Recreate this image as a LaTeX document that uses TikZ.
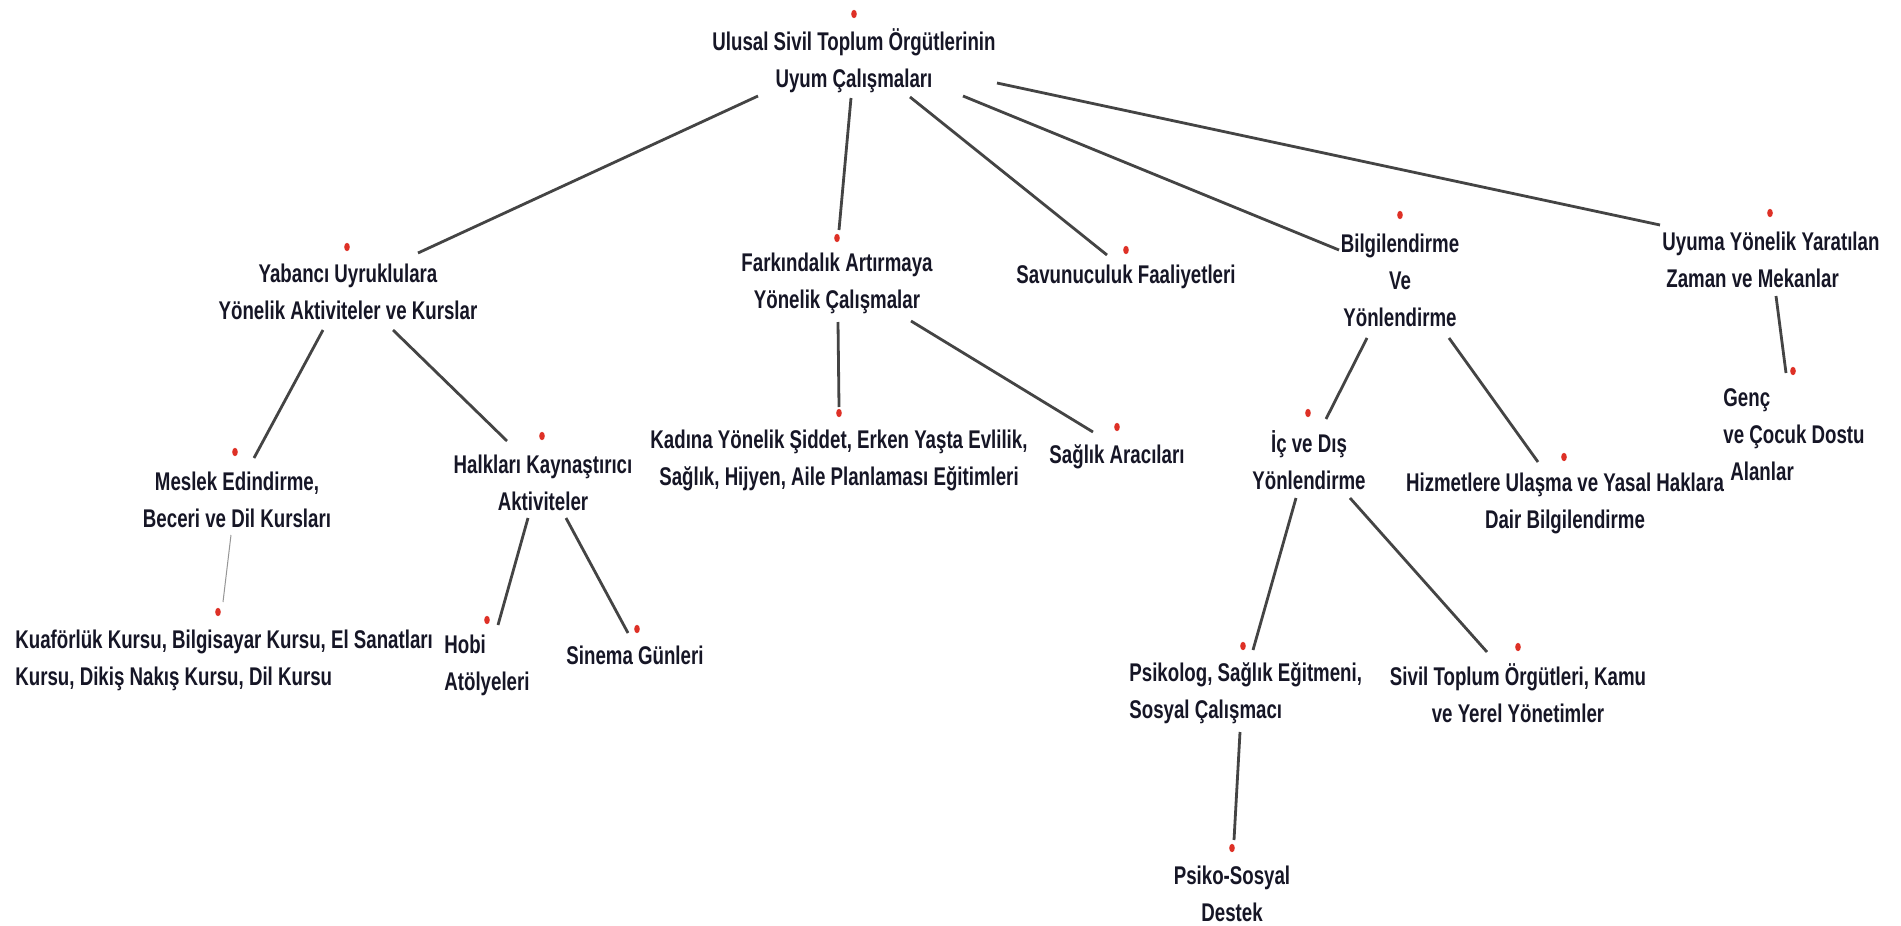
\documentclass[tikz,border=0pt]{standalone}
\usepackage{fontspec}
\setmainfont{Liberation Sans}[FakeStretch=0.73]
\usetikzlibrary{calc,shapes.geometric}
\definecolor{txt}{RGB}{22,22,38}
\definecolor{edgec}{RGB}{68,68,68}
\definecolor{thinc}{RGB}{150,150,150}
\definecolor{dotc}{RGB}{222,48,38}
\begin{document}
\begin{tikzpicture}[x=0.5pt,y=-0.5pt,
  lbl/.style={inner sep=0pt,align=center,text=txt,font={\fontsize{12.8}{18.5}\selectfont\bfseries}},
  lbll/.style={lbl,align=left,anchor=west},
  reddot/.style={ellipse,fill=dotc,draw=none,inner sep=0pt,minimum width=2.8pt,minimum height=4.2pt},
  edge/.style={draw=edgec,line width=1.4pt},
  thinedge/.style={draw=thinc,line width=0.5pt}]
\fill[white] (0,0) rectangle (1901,926);
\useasboundingbox (0,0) rectangle (1901,926);

% text nodes
\node[lbl] (root) at (854,61) {Ulusal Sivil Toplum Örgütlerinin\\Uyum Çalışmaları};
\node[lbl] (yab) at (348,292) {Yabancı Uyruklulara\\Yönelik Aktiviteler ve Kurslar};
\node[lbl] (mes) at (237,500) {Meslek Edindirme,\\Beceri ve Dil Kursları};
\node[lbll] (kuaf) at (15,660) {Kuaförlük Kursu, Bilgisayar Kursu, El Sanatları\\Kursu, Dikiş Nakış Kursu, Dil Kursu};
\node[lbl] (halk) at (543,483) {Halkları Kaynaştırıcı\\Aktiviteler};
\node[lbll] (hobi) at (444,665) {Hobi\\Atölyeleri};
\node[lbl] (sin) at (635,655) {Sinema Günleri};
\node[lbl] (fark) at (837,283) {Farkındalık Artırmaya\\Yönelik Çalışmalar};
\node[lbl] (kad) at (839,460) {Kadına Yönelik Şiddet, Erken Yaşta Evlilik,\\Sağlık, Hijyen, Aile Planlaması Eğitimleri};
\node[lbl] (sav) at (1126,277) {Savunuculuk Faaliyetleri};
\node[lbl] (sag) at (1117,457) {Sağlık Aracıları};
\node[lbl] (bilg) at (1400,280) {Bilgilendirme\\Ve\\Yönlendirme};
\node[lbll] (uyu) at (1662,260) {Uyuma Yönelik Yaratılan\\\hspace*{2pt}Zaman ve Mekanlar};
\node[lbll] (genc) at (1723,435) {Genç\\ve Çocuk Dostu\\\hspace*{3.5pt}Alanlar};
\node[lbl] (ic) at (1309,460) {İç ve Dış\\Yönlendirme};
\node[lbl] (hiz) at (1565,503) {Hizmetlere Ulaşma ve Yasal Haklara\\Dair Bilgilendirme};
\node[lbll] (psi) at (1129,693) {Psikolog, Sağlık Eğitmeni,\\Sosyal Çalışmacı};
\node[lbl] (siv) at (1518,693) {Sivil Toplum Örgütleri, Kamu\\ve Yerel Yönetimler};
\node[lbl] (pss) at (1232,894) {Psiko-Sosyal\\Destek};

% red dots
\node[reddot] (droot) at (854,14) {};
\node[reddot] (dyab) at (347,247) {};
\node[reddot] (dmes) at (235,452) {};
\node[reddot] (dkuaf) at (218,612) {};
\node[reddot] (dhalk) at (542,436) {};
\node[reddot] (dhobi) at (487,620) {};
\node[reddot] (dsin) at (637,629) {};
\node[reddot] (dfark) at (837,238) {};
\node[reddot] (dkad) at (839,413) {};
\node[reddot] (dsav) at (1126,250) {};
\node[reddot] (dsag) at (1117,427) {};
\node[reddot] (dbilg) at (1400,215) {};
\node[reddot] (duyu) at (1770,213) {};
\node[reddot] (dgenc) at (1793,371) {};
\node[reddot] (dic) at (1308,413) {};
\node[reddot] (dhiz) at (1564,457) {};
\node[reddot] (dpsi) at (1243,646) {};
\node[reddot] (dsiv) at (1518,647) {};
\node[reddot] (dpss) at (1232,848) {};

% connectors
\draw[edge] ($(root)+(-96,35)$) -- ($(yab)+(70,-39)$);
\draw[edge] ($(root)+(-3,37)$) -- ($(fark)+(2,-53)$);
\draw[edge] ($(root)+(56,36)$) -- ($(sav)+(-19,-22)$);
\draw[edge] ($(root)+(109,35)$) -- ($(bilg)+(-61,-30)$);
\draw[edge] ($(root)+(143,22)$) -- ($(uyu.west)+(-2,-35)$);
\draw[edge] ($(yab)+(-25,38)$) -- ($(mes)+(17,-42)$);
\draw[edge] ($(yab)+(45,38)$) -- ($(halk)+(-36,-42)$);
\draw[thinedge] ($(mes)+(-6,35)$) -- ($(kuaf.west)+(208,-58)$);
\draw[edge] ($(halk)+(-15,35)$) -- ($(hobi.west)+(54,-40)$);
\draw[edge] ($(halk)+(23,35)$) -- ($(sin)+(-7,-22)$);
\draw[edge] ($(fark)+(1,39)$) -- ($(kad)+(0,-53)$);
\draw[edge] ($(fark)+(74,38)$) -- ($(sag)+(-24,-25)$);
\draw[edge] ($(bilg)+(-33,58)$) -- ($(ic)+(17,-41)$);
\draw[edge] ($(bilg)+(49,58)$) -- ($(hiz)+(-27,-41)$);
\draw[edge] ($(uyu.west)+(114,36)$) -- ($(genc.west)+(63,-62)$);
\draw[edge] ($(ic)+(-13,38)$) -- ($(psi.west)+(124,-43)$);
\draw[edge] ($(ic)+(41,38)$) -- ($(siv)+(-31,-41)$);
\draw[edge] ($(psi.west)+(111,39)$) -- ($(pss)+(2,-54)$);
\end{tikzpicture}
\end{document}
